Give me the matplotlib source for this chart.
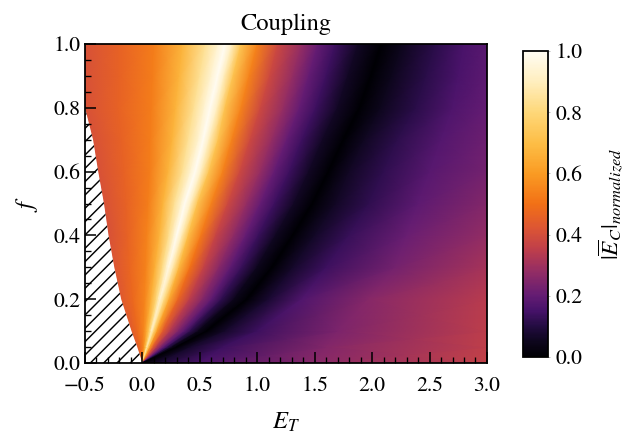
import numpy as np
import matplotlib
matplotlib.use("Agg")
import matplotlib.pyplot as plt
from matplotlib.colors import LinearSegmentedColormap
from matplotlib.ticker import MultipleLocator

plt.rcParams['font.family'] = 'STIXGeneral'
plt.rcParams['mathtext.fontset'] = 'stix'
plt.rcParams['hatch.linewidth'] = 1.3

# rows of f, each with the E_T positions and |E_C| values
f_rows = [0.0, 0.05, 0.1, 0.2, 0.3, 0.4, 0.5, 0.6, 0.7, 0.8, 0.9, 1.0]

et_pts = [
    [0.0, 0.0, 0.0, 0.0, 0.0, 0.0, 0.0, 0.0, 0.0, 0.0, 0.0, 0.0, 0.0, 0.0, 0.0, 0.0, 0.15, 0.5, 1.5, 3.0],
    [-0.045, -0.02, 0.006, 0.02, 0.031, 0.037, 0.04, 0.051, 0.067, 0.094, 0.128, 0.167, 0.195, 0.224, 0.262, 0.30, 0.42, 0.7, 1.6, 3.0],
    [-0.095, -0.042, 0.011, 0.039, 0.061, 0.073, 0.08, 0.101, 0.129, 0.179, 0.242, 0.315, 0.366, 0.419, 0.489, 0.56, 0.72, 1.0, 1.7, 3.0],
    [-0.185, -0.08, 0.022, 0.076, 0.12, 0.14, 0.155, 0.19, 0.233, 0.31, 0.41, 0.525, 0.605, 0.69, 0.80, 0.91, 1.10, 1.39, 1.97, 3.0],
    [-0.245, -0.11, 0.03, 0.11, 0.175, 0.21, 0.23, 0.27, 0.32, 0.415, 0.535, 0.67, 0.77, 0.865, 1.0, 1.13, 1.31, 1.6, 2.2, 3.0],
    [-0.295, -0.13, 0.04, 0.15, 0.23, 0.275, 0.30, 0.345, 0.40, 0.51, 0.64, 0.795, 0.90, 1.01, 1.16, 1.31, 1.5, 1.8, 2.3, 3.0],
    [-0.335, -0.14, 0.05, 0.18, 0.28, 0.34, 0.37, 0.42, 0.48, 0.60, 0.745, 0.91, 1.03, 1.15, 1.32, 1.48, 1.68, 1.97, 2.4, 3.0],
    [-0.385, -0.16, 0.065, 0.225, 0.35, 0.42, 0.46, 0.51, 0.58, 0.70, 0.85, 1.03, 1.15, 1.28, 1.45, 1.62, 1.8, 2.1, 2.5, 3.0],
    [-0.43, -0.18, 0.07, 0.26, 0.40, 0.49, 0.53, 0.58, 0.66, 0.78, 0.94, 1.13, 1.26, 1.39, 1.57, 1.75, 1.93, 2.22, 2.6, 3.0],
    [-0.5, -0.21, 0.08, 0.29, 0.45, 0.54, 0.59, 0.65, 0.72, 0.86, 1.03, 1.23, 1.37, 1.51, 1.70, 1.89, 2.07, 2.38, 2.7, 3.0],
    [-0.5, -0.2, 0.09, 0.32, 0.50, 0.60, 0.655, 0.71, 0.79, 0.93, 1.11, 1.31, 1.45, 1.60, 1.79, 1.99, 2.17, 2.47, 2.75, 3.0],
    [-0.5, -0.2, 0.10, 0.35, 0.55, 0.66, 0.72, 0.78, 0.86, 1.00, 1.18, 1.39, 1.53, 1.68, 1.88, 2.08, 2.26, 2.55, 2.8, 3.0],
]

ec_vals = [
    [0.44, 0.48, 0.54, 0.63, 0.74, 0.8, 0.85, 0.76, 0.58, 0.43, 0.32, 0.23, 0.17, 0.11, 0.04, 0.0, 0.08, 0.16, 0.26, 0.36],
    [0.44, 0.48, 0.54, 0.63, 0.74, 0.8, 0.85, 0.76, 0.58, 0.43, 0.32, 0.23, 0.17, 0.11, 0.04, 0.0, 0.07, 0.14, 0.25, 0.355],
    [0.44, 0.48, 0.55, 0.65, 0.77, 0.85, 0.9, 0.78, 0.6, 0.44, 0.33, 0.24, 0.18, 0.115, 0.04, 0.0, 0.07, 0.14, 0.24, 0.35],
    [0.43, 0.48, 0.55, 0.66, 0.8, 0.88, 0.93, 0.82, 0.64, 0.47, 0.35, 0.25, 0.19, 0.12, 0.045, 0.0, 0.08, 0.17, 0.26, 0.34],
    [0.42, 0.47, 0.54, 0.66, 0.82, 0.92, 0.97, 0.86, 0.68, 0.5, 0.36, 0.26, 0.19, 0.13, 0.05, 0.0, 0.07, 0.14, 0.23, 0.31],
    [0.41, 0.46, 0.54, 0.67, 0.83, 0.93, 1.0, 0.88, 0.7, 0.52, 0.37, 0.27, 0.2, 0.135, 0.055, 0.0, 0.065, 0.13, 0.21, 0.28],
    [0.41, 0.46, 0.53, 0.67, 0.84, 0.94, 1.0, 0.9, 0.72, 0.54, 0.38, 0.28, 0.2, 0.14, 0.06, 0.0, 0.06, 0.12, 0.19, 0.25],
    [0.41, 0.46, 0.53, 0.67, 0.84, 0.94, 1.0, 0.9, 0.72, 0.54, 0.38, 0.28, 0.2, 0.14, 0.06, 0.0, 0.06, 0.12, 0.18, 0.23],
    [0.41, 0.46, 0.53, 0.67, 0.84, 0.94, 1.0, 0.9, 0.72, 0.54, 0.38, 0.28, 0.2, 0.14, 0.06, 0.0, 0.055, 0.115, 0.175, 0.215],
    [0.41, 0.46, 0.53, 0.67, 0.84, 0.94, 1.0, 0.9, 0.72, 0.54, 0.38, 0.28, 0.2, 0.14, 0.06, 0.0, 0.05, 0.11, 0.165, 0.2],
    [0.41, 0.46, 0.53, 0.67, 0.84, 0.94, 1.0, 0.9, 0.72, 0.54, 0.38, 0.28, 0.2, 0.14, 0.06, 0.0, 0.05, 0.11, 0.16, 0.19],
    [0.41, 0.46, 0.53, 0.67, 0.84, 0.94, 1.0, 0.9, 0.72, 0.54, 0.38, 0.28, 0.2, 0.14, 0.06, 0.0, 0.05, 0.11, 0.16, 0.18],
]

# edge of the excluded (hatched) region
f_edge = [0.0, 0.05, 0.1, 0.2, 0.3, 0.4, 0.5, 0.6, 0.7, 0.8]
et_edge = [0.0, -0.045, -0.095, -0.185, -0.245, -0.295, -0.335, -0.385, -0.43, -0.5]

cb_ticks = [0.0, 0.2, 0.4, 0.6, 0.8, 1.0]

# colour scale as it appears on the colour bar
cmap_nodes = [0.0, 0.05, 0.1, 0.15, 0.2, 0.28, 0.35, 0.42, 0.5, 0.6, 0.7, 0.8, 0.9, 1.0]
cmap_rgb = [(0, 0, 4), (14, 6, 30), (35, 12, 65), (70, 18, 105), (100, 28, 115),
            (148, 45, 100), (190, 62, 75), (220, 85, 52), (242, 112, 22),
            (250, 155, 35), (253, 190, 70), (254, 215, 120), (255, 238, 190),
            (255, 252, 242)]
cmap = LinearSegmentedColormap.from_list(
    'coupling', [(v, tuple(c / 255 for c in rgb)) for v, rgb in zip(cmap_nodes, cmap_rgb)])

X = np.array(et_pts)
Y = np.repeat(np.array(f_rows)[:, None], X.shape[1], axis=1)
C = np.array(ec_vals)

fig = plt.figure(figsize=(639 / 80, 437 / 80), dpi=80)
ax = fig.add_axes([0.1330, 0.1693, 0.6291, 0.7300])
cax = fig.add_axes([0.8185, 0.1831, 0.0391, 0.7002])

mesh = ax.pcolormesh(X, Y, C, cmap=cmap, vmin=0, vmax=1, shading='gouraud')
ax.fill_betweenx(f_edge, -0.5, et_edge, facecolor='white', edgecolor='black',
                 hatch='//', linewidth=0)

ax.set_xlim(-0.5, 3.0)
ax.set_ylim(0.0, 1.0)
ax.xaxis.set_major_locator(MultipleLocator(0.5))
ax.xaxis.set_minor_locator(MultipleLocator(0.1))
ax.yaxis.set_major_locator(MultipleLocator(0.2))
ax.yaxis.set_minor_locator(MultipleLocator(0.05))
ax.tick_params(which='both', direction='in', top=False, right=False, labelsize=19.5)
ax.tick_params(which='major', length=10, width=1.4)
ax.tick_params(which='minor', length=5, width=1.2)
ax.tick_params(axis='x', which='major', pad=12)
ax.tick_params(axis='y', which='major', pad=4)
for s in ax.spines.values():
    s.set_linewidth(1.6)

ax.set_xlabel('$E_T$', fontsize=22, labelpad=13)
ax.set_ylabel('$f$', fontsize=22, labelpad=12)
ax.set_title('Coupling', fontsize=22, pad=13)

cb = fig.colorbar(mesh, cax=cax, ticks=cb_ticks)
cb.outline.set_linewidth(1.6)
cb.ax.tick_params(labelsize=19.5, length=2, width=0.6, color='0.6', pad=5)
cb.set_label(r'$|\overline{E}_C|_{normalized}$', fontsize=21, labelpad=12)

fig.savefig('out.png', dpi=80)
